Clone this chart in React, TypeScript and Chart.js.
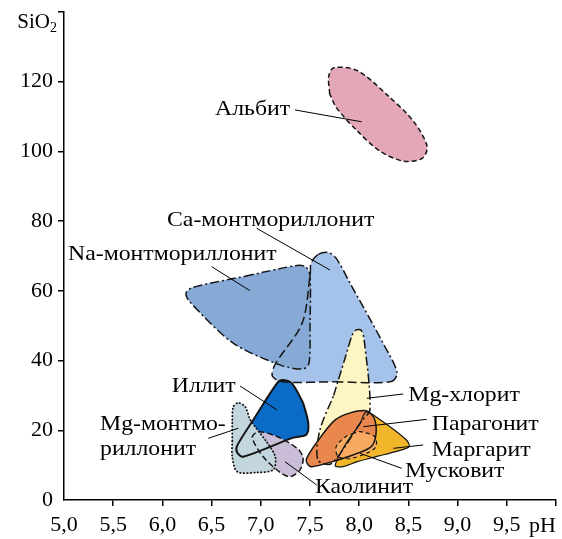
import React, { useEffect, useRef } from "react";
import { Chart, registerables } from "chart.js";

Chart.register(...registerables);

const FONT = '"Liberation Serif", "Times New Roman", serif';

// x tick values (pH) and y tick values (SiO2)
const xTicks = [5.0, 5.5, 6.0, 6.5, 7.0, 7.5, 8.0, 8.5, 9.0, 9.5, 10.0];
const yTicks = [0, 20, 40, 60, 80, 100, 120, 140];

// field outlines: [pH, SiO2]
const albit = [[7.70,116.5],[7.69,121.5],[7.74,124.0],[7.98,123.2],[8.28,116.3],[8.55,108.7],[8.69,101.5],[8.64,98.0],[8.45,97.2],[8.21,100.1],[7.98,105.9],[7.77,112.5],[7.70,116.5]];
const naMont = [[6.84,64.2],[7.37,67.3],[7.46,66.8],[7.50,64.4],[7.50,50.0],[7.49,39.3],[7.43,37.6],[7.20,38.7],[6.72,45.0],[6.28,56.8],[6.24,59.3],[6.31,61.0],[6.84,64.2]];
const caMont = [[7.75,33.9],[8.315,33.9],[8.386,36.4],[8.254,44.4],[7.909,62.1],[7.767,69.3],[7.685,71.0],[7.58,70.4],[7.51,67.9],[7.503,65.0],[7.42,50.7],[7.147,39.0],[7.117,35.6],[7.218,33.9],[7.75,33.9]];
const mgChlorite = [[7.74,30.0],[7.86,41.0],[7.93,47.4],[7.97,48.8],[8.02,48.7],[8.05,46.0],[8.11,26.0],[8.02,22.5],[7.72,10.5],[7.58,11.5],[7.60,20.0],[7.74,30.0]];
const paragonite = [[7.80,11.6],[8.11,15.0],[8.17,18.7],[8.15,23.6],[8.07,25.6],[7.91,25.0],[7.756,23.0],[7.604,17.9],[7.462,11.6],[7.503,9.6],[7.60,10.0],[7.80,11.6]];
const margarite = [[8.18,12.5],[8.396,14.1],[8.508,15.3],[8.477,17.3],[8.213,23.0],[8.071,25.3],[8.01,22.0],[7.86,15.9],[7.756,9.9],[7.838,9.6],[7.98,11.0],[8.18,12.5]];
const muscovite = [[7.93,19.0],[8.01,19.6],[8.16,18.1],[8.17,15.3],[8.09,13.6],[7.91,11.9],[7.787,12.4],[7.766,15.3],[7.858,18.1],[7.93,19.0]];
const illite = [[7.43,27.9],[7.482,22.1],[7.462,18.7],[7.33,17.9],[6.822,12.4],[6.76,13.6],[6.76,15.6],[6.924,23.0],[7.168,33.6],[7.228,34.4],[7.32,33.3],[7.43,27.9]];
const mgMont = [[6.71,17.0],[6.71,22.1],[6.72,26.7],[6.772,27.9],[6.843,26.7],[6.893,23.0],[7.066,16.4],[7.147,12.4],[7.127,8.7],[6.964,7.9],[6.761,8.1],[6.71,12.4],[6.71,17.0]];
const kaolinite = [[7.39,14.4],[7.431,12.1],[7.40,8.7],[7.30,6.7],[7.198,7.9],[7.025,12.4],[6.914,17.9],[6.975,19.6],[7.147,18.4],[7.30,16.2],[7.39,14.4]];

// labels: text lines, baseline anchor (pH, SiO2), leader line from -> to
const labels = [
  { lines: ["Альбит"], x: 6.535, y: 110.45, l: [7.348, 111.9, 8.025, 108.5] },
  { lines: ["Na-монтмориллонит"], x: 5.041, y: 68.85, l: [6.501, 66.93, 6.890, 60.05] },
  { lines: ["Ca-монтмориллонит"], x: 6.047, y: 78.6, l: [6.958, 77.95, 7.703, 65.98] },
  { lines: ["Иллит"], x: 6.095, y: 31.07, l: [6.789, 32.7, 7.165, 25.82] },
  { lines: ["Mg-монтмо-", "риллонит"], x: 5.366, y: 20.08, l: [6.466, 17.7, 6.771, 20.57] },
  { lines: ["Каолинит"], x: 7.551, y: 2.0, l: [7.246, 10.99, 7.568, 4.3] },
  { lines: ["Mg-хлорит"], x: 8.499, y: 28.4, l: [8.076, 29.18, 8.448, 30.41] },
  { lines: ["Парагонит"], x: 8.737, y: 20.08, l: [8.042, 21.03, 8.686, 23.15] },
  { lines: ["Маргарит"], x: 8.737, y: 12.62, l: [8.347, 14.83, 8.651, 15.78] },
  { lines: ["Мусковит"], x: 8.465, y: 6.6, l: [8.008, 13.4, 8.432, 9.09] },
];

const pts = (a: number[][]) => a.map(([x, y]) => ({ x, y }));

function shape(label: string, data: number[][], bg: string, extra: any = {}) {
  return {
    label,
    data: pts(data),
    showLine: true,
    fill: "shape",
    backgroundColor: bg,
    borderColor: "#151515",
    borderWidth: 1.5,
    pointRadius: 0,
    tension: 0.3,
    ...extra,
  };
}

const labelPlugin = {
  id: "fieldLabels",
  afterDatasetsDraw(chart: any) {
    const { ctx, scales } = chart;
    const xs = scales.x, ys = scales.y;
    ctx.save();
    ctx.strokeStyle = "#000";
    ctx.lineWidth = 1;
    ctx.fillStyle = "#000";
    ctx.font = `22px ${FONT}`;
    ctx.textAlign = "left";
    ctx.textBaseline = "alphabetic";
    for (const lb of labels) {
      ctx.beginPath();
      ctx.moveTo(xs.getPixelForValue(lb.l[0]), ys.getPixelForValue(lb.l[1]));
      ctx.lineTo(xs.getPixelForValue(lb.l[2]), ys.getPixelForValue(lb.l[3]));
      ctx.stroke();
      const px = xs.getPixelForValue(lb.x);
      const py = ys.getPixelForValue(lb.y);
      lb.lines.forEach((t, i) => {
        ctx.save();
        ctx.translate(px, py + i * 25);
        ctx.scale(1.08, 1);
        ctx.fillText(t, 0, 0);
        ctx.restore();
      });
    }
    // axis titles in place of last tick labels
    const bx = xs.getPixelForValue(10);
    ctx.font = `22px ${FONT}`;
    ctx.fillText("pH", bx - 27, xs.bottom - 7);
    const ty = ys.getPixelForValue(140);
    ctx.textAlign = "right";
    ctx.font = `14px ${FONT}`;
    ctx.fillText("2", ys.right - 7, ty + 20);
    ctx.font = `21px ${FONT}`;
    ctx.fillText("SiO", ys.right - 14, ty + 16);
    ctx.restore();
  },
};

export default function App() {
  const ref = useRef<HTMLCanvasElement>(null);
  useEffect(() => {
    if (!ref.current) return;
    const tickColor = (skip: number) => (c: any) =>
      c.tick && c.tick.value === skip ? "rgba(0,0,0,0)" : "#000";
    const chart = new Chart(ref.current, {
      type: "scatter",
      data: {
        datasets: [
          shape("Мусковит", muscovite, "#f8aa62", { borderDash: [4, 3], borderWidth: 1.2 }),
          shape("Парагонит", paragonite, "#e9874e", { borderWidth: 1.5 }),
          shape("Маргарит", margarite, "#f2b62a", { borderWidth: 1.2 }),
          shape("Mg-хлорит", mgChlorite, "#fdf6c4", { borderDash: [9, 3, 2, 3] }),
          shape("Mg-монтмориллонит", mgMont, "#c3d6dd", { borderDash: [0.5, 3], borderCapStyle: "round", borderWidth: 1.8 }),
          shape("Каолинит", kaolinite, "#c9bdd7", { borderDash: [6, 3] }),
          shape("Иллит", illite, "#0a6cc6", { borderWidth: 2 }),
          shape("Na-монтмориллонит", naMont, "#86a9d6", { borderDash: [9, 3, 2, 3] }),
          {
            label: "Ca-outline",
            data: pts(caMont),
            showLine: true,
            fill: false,
            borderColor: "#151515",
            borderWidth: 1.5,
            pointRadius: 0,
            tension: 0.3,
            segment: {
              borderDash: (c: any) => (c.p0DataIndex >= 1 && c.p0DataIndex <= 6 ? [9, 3, 2, 3] : [9, 4]),
            },
          },
          shape("Ca-монтмориллонит", caMont, "#a4c2ea", { borderWidth: 0 }),
          shape("Альбит", albit, "#e4a7b8", { borderDash: [5, 3] }),
        ] as any,
      },
      options: {
        responsive: false,
        animation: false,
        devicePixelRatio: 1,
        layout: { padding: { top: 12, right: 6, left: 0, bottom: 0 } },
        plugins: {
          legend: { display: false },
          tooltip: { enabled: false },
          filler: { drawTime: "beforeDatasetsDraw" },
        } as any,
        scales: {
          x: {
            type: "linear",
            min: 5,
            max: 10,
            afterBuildTicks: (s: any) => { s.ticks = xTicks.map((v) => ({ value: v })); },
            afterFit: (s: any) => { s.height = 39; s.paddingLeft = 0; s.paddingRight = 0; },
            ticks: {
              color: "#000",
              font: { family: FONT, size: 22 },
              padding: 6,
              maxRotation: 0,
              autoSkip: false,
              callback: (v: any) => (v === 10 ? "" : Number(v).toFixed(1).replace(".", ",")),
            },
            grid: { drawOnChartArea: false, drawTicks: true, tickLength: 6, color: tickColor(5), lineWidth: 1.5 },
            border: { display: true, color: "#000", width: 1.5 },
          },
          y: {
            type: "linear",
            min: 0,
            max: 140,
            afterBuildTicks: (s: any) => { s.ticks = yTicks.map((v) => ({ value: v })); },
            afterFit: (s: any) => { s.width = 64; s.paddingTop = 0; s.paddingBottom = 0; },
            ticks: {
              color: "#000",
              font: { family: FONT, size: 22 },
              padding: 5,
              autoSkip: false,
              callback: (v: any) => (v === 140 ? "" : String(v)),
            },
            grid: { drawOnChartArea: false, drawTicks: true, tickLength: 6, color: tickColor(0), lineWidth: 1.5 },
            border: { display: true, color: "#000", width: 1.5 },
          },
        },
      } as any,
      plugins: [labelPlugin],
    });
    return () => chart.destroy();
  }, []);
  return (
    <div style={{ position: "absolute", left: 0, top: 0, width: 562, height: 539, background: "#fff" }}>
      <canvas ref={ref} width={562} height={539} style={{ display: "block" }} />
    </div>
  );
}
